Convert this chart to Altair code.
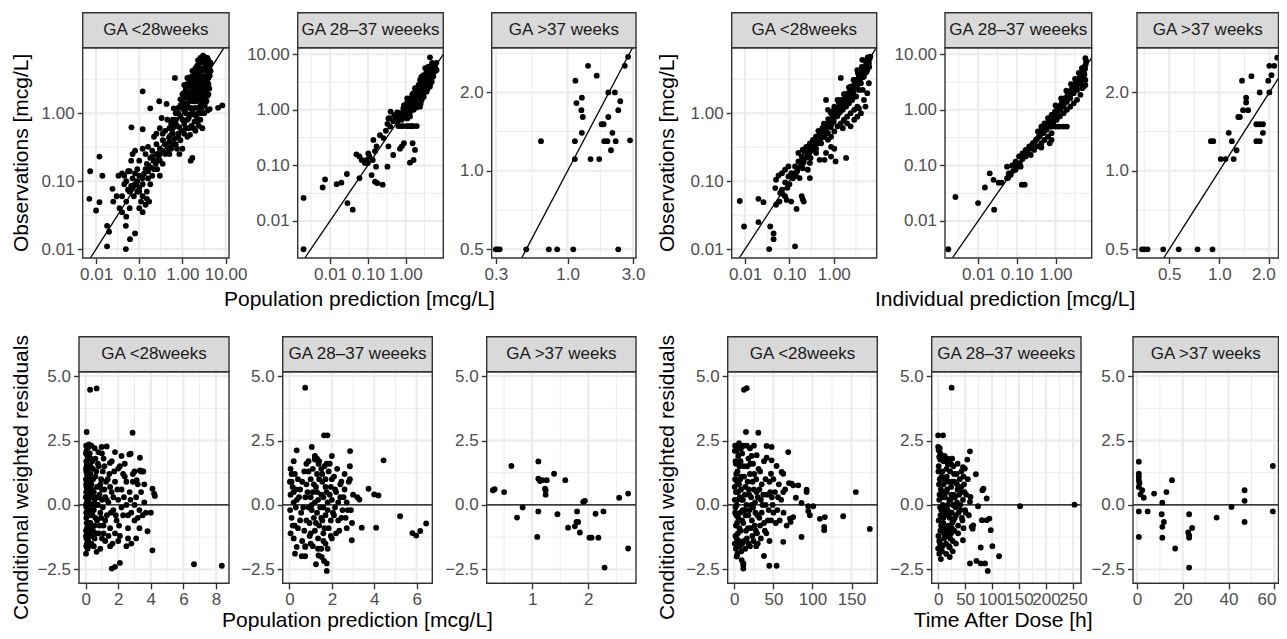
import altair as alt
import pandas as pd

FONT = "Liberation Sans"
W, H = 1271, 623          # drawing area (page 1287x639 minus 8px margins on each side)
OX, OY = 8, 8

# ---------------- texts ----------------
GA_LABELS = ["GA <28weeks", "GA 28\u201337 weeeks", "GA >37 weeks"]
X_TITLES = ["Population prediction [mcg/L]", "Individual prediction [mcg/L]",
            "Population prediction [mcg/L]", "Time After Dose [h]"]
Y_TITLES = ["Observations [mcg/L]", "Observations [mcg/L]",
            "Conditional weighted residuals", "Conditional weighted residuals"]

# ---------------- tick / grid values ----------------
LOG3 = [0.01, 0.1, 1]
LOG4 = [0.01, 0.1, 1, 10]
LOG_MIN3 = [0.0316, 0.316, 3.16]
LOG_MIN4 = [0.00316, 0.0316, 0.316, 3.16]
GA37_PRED_TICKS = [0.3, 1, 3]
GA37_PRED_MINOR = [0.548, 1.732]
GA37_IPRED_TICKS = [0.5, 1, 2]
GA37_IPRED_MINOR = [0.354, 0.707, 1.414]
GA37_OBS_TICKS = [0.5, 1, 2]
GA37_OBS_MINOR = [0.707, 1.414, 2.828]
CWRES_TICKS = [-2.5, 0, 2.5, 5]
CWRES_MINOR = [-1.25, 1.25, 3.75]
C1_TICKS, C1_MINOR = [0, 2, 4, 6, 8], [1, 3, 5, 7]
C2_TICKS, C2_MINOR = [0, 2, 4, 6], [1, 3, 5]
C3_TICKS, C3_MINOR = [1, 2], [0.5, 1.5, 2.5]
D1_TICKS, D1_MINOR = [0, 50, 100, 150], [25, 75, 125, 175]
D2_TICKS, D2_MINOR = [0, 50, 100, 150, 200, 250], [25, 75, 125, 175, 225]
D3_TICKS, D3_MINOR = [0, 20, 40, 60], [10, 30, 50]

# ---------------- data: (x, y) ----------------
# A: population prediction vs observation
a1 = [
    (0.0073, 0.14), (0.0070, 0.055), (0.010, 0.037), (0.012, 0.049), (0.012, 0.23), (0.014, 0.12),
    (0.018, 0.022), (0.020, 0.018), (0.018, 0.011), (0.024, 0.077), (0.025, 0.050), (0.033, 0.12),
    (0.040, 0.13), (0.045, 0.090), (0.050, 0.10), (0.060, 0.14), (0.055, 0.075), (0.065, 0.085),
    (0.070, 0.11), (0.080, 0.13), (0.090, 0.15), (0.035, 0.040), (0.040, 0.035), (0.050, 0.030),
    (0.060, 0.040), (0.049, 0.022), (0.049, 0.010), (0.061, 0.014), (0.080, 0.017), (0.10, 0.040),
    (0.11, 0.050), (0.12, 0.060), (0.14, 0.045), (0.030, 0.060), (0.075, 0.060), (0.090, 0.070),
    (0.10, 0.080), (0.070, 0.25), (0.080, 0.28), (0.10, 0.20), (0.066, 0.62), (0.12, 0.58), (0.12, 2.1),
    (0.045, 0.12), (0.055, 0.14), (0.065, 0.20), (0.085, 0.09), (0.12, 0.035), (0.15, 0.055), (0.17, 0.05),
    (0.18, 1.18), (0.29, 1.5), (0.43, 1.37), (0.63, 1.18), (0.67, 3.3),
    (0.70, 0.70), (0.55, 0.60), (0.50, 0.45), (0.40, 0.55), (0.35, 0.40), (0.60, 0.35), (0.45, 0.32),
    (0.30, 0.30), (0.25, 0.35), (0.20, 0.28), (0.28, 0.22), (0.22, 0.20), (0.18, 0.22), (0.15, 0.18),
    (0.35, 0.18), (0.40, 0.25), (0.80, 0.45), (0.75, 0.30), (0.50, 0.25), (0.16, 0.14), (0.13, 0.13),
    (0.10, 0.12), (0.26, 0.15), (0.20, 0.12), (0.12, 0.09), (0.09, 0.10), (0.30, 0.12), (0.18, 0.09),
    (0.15, 0.07), (1.55, 0.20), (1.70, 0.22), (1.0, 0.30), (0.85, 0.25), (0.60, 0.50), (0.30, 0.60),
    (0.22, 0.45), (0.16, 0.32), (0.14, 0.25), (0.12, 0.30), (0.33, 0.85), (0.45, 0.80), (0.25, 0.50),
    (2.6, 6.5), (3.2, 6.8), (3.0, 5.8), (2.2, 5.0), (3.6, 5.2), (2.8, 4.6), (1.7, 4.2), (3.9, 4.0),
    (2.4, 3.8), (3.2, 3.5), (1.9, 3.3), (1.3, 3.3), (2.7, 3.0), (3.7, 2.9), (2.1, 2.7), (1.6, 2.6),
    (3.0, 2.4), (4.2, 2.3), (2.4, 2.1), (1.2, 2.3), (1.8, 2.0), (3.4, 1.9), (2.6, 1.7), (1.5, 1.8),
    (1.0, 1.9), (2.0, 1.5), (3.0, 1.4), (1.3, 1.4), (0.9, 1.6), (1.6, 1.2), (2.4, 1.2), (1.1, 1.1),
    (0.8, 1.0), (1.9, 0.95), (2.8, 1.0), (1.4, 0.85), (1.0, 0.8), (2.2, 0.75), (0.7, 0.8), (1.6, 0.65),
    (2.9, 0.6), (1.2, 0.6), (0.85, 0.62), (2.0, 0.55), (1.5, 0.48), (4.3, 1.15), (6.7, 1.2), (8.4, 1.3),
    (3.3, 4.6), (4.0, 6.0), (2.0, 4.0), (1.5, 3.0), (3.5, 2.6), (4.0, 3.3), (3.1, 2.0), (2.3, 2.9),
    (1.8, 1.5), (1.1, 1.3), (2.7, 4.2), (3.6, 4.4), (2.0, 2.2), (2.5, 2.5), (1.4, 2.0), (3.3, 3.0),
    (2.8, 3.5), (1.2, 1.7), (0.95, 1.2), (2.3, 1.0), (3.8, 1.8), (1.7, 1.0),
    (2.3, 6.0), (2.9, 6.2), (3.5, 6.3), (2.5, 5.5), (3.3, 5.5), (3.9, 5.6), (2.0, 4.6), (2.5, 4.4),
    (3.0, 4.3), (3.5, 4.8), (4.2, 4.8), (1.8, 3.7), (2.2, 3.5), (2.6, 3.4), (3.0, 3.2), (3.6, 3.6),
    (4.3, 3.6), (1.5, 3.4), (1.9, 2.9), (2.6, 2.8), (3.2, 2.7), (4.0, 2.7), (1.4, 2.5), (1.8, 2.4),
    (2.2, 2.3), (2.8, 2.1), (3.6, 2.2), (1.1, 2.0), (1.6, 2.1), (2.1, 1.9), (2.7, 1.9), (3.2, 1.7),
    (4.0, 1.9), (1.3, 1.7), (1.8, 1.7), (2.3, 1.6), (2.9, 1.6), (3.6, 1.5), (1.0, 1.5), (1.5, 1.5),
    (2.6, 1.4), (3.3, 1.3), (0.9, 1.3), (1.4, 1.2), (2.0, 1.2), (2.8, 1.2), (3.8, 1.1), (1.2, 1.0),
    (1.7, 1.1), (2.5, 1.0), (3.2, 1.0), (0.9, 0.9), (1.5, 0.95), (2.1, 0.9), (0.75, 0.65), (1.1, 0.7),
    (1.3, 0.8), (1.9, 0.75), (2.6, 0.8), (0.95, 0.55), (1.4, 0.6), (1.8, 0.6), (2.4, 0.65), (0.6, 0.6),
    (0.8, 0.5), (1.1, 0.5), (1.3, 0.45), (0.5, 0.38), (0.65, 0.42), (0.9, 0.4), (0.55, 0.3), (0.7, 0.35),
    (0.4, 0.35), (0.45, 0.27), (0.3, 0.25), (0.35, 0.28), (0.25, 0.25), (0.2, 0.23), (0.24, 0.18),
    (0.3, 0.2), (0.18, 0.16), (0.22, 0.15), (0.14, 0.15), (0.12, 0.11), (0.16, 0.11), (0.08, 0.09),
    (0.07, 0.08), (0.1, 0.07), (0.06, 0.07), (0.05, 0.05), (0.04, 0.06), (0.35, 0.5), (0.5, 0.6),
    (0.6, 0.8), (0.55, 0.7), (0.7, 1.0), (0.8, 1.2), (4.5, 4.2), (4.5, 5.5), (3.8, 6.5), (3.0, 7.0),
    (2.2, 4.2), (1.3, 2.7), (1.1, 2.6),
]
a2 = [
    (0.0020, 0.026), (0.0020, 0.0031), (0.0064, 0.040), (0.0074, 0.056),
    (0.015, 0.046), (0.020, 0.049), (0.028, 0.070), (0.029, 0.021), (0.040, 0.016), (0.060, 0.059),
    (0.050, 0.158), (0.060, 0.145), (0.069, 0.125), (0.084, 0.110),
    (0.103, 0.164), (0.135, 0.125), (0.165, 0.095), (0.126, 0.067), (0.155, 0.051), (0.179, 0.048),
    (0.247, 0.045), (0.33, 0.095), (0.14, 0.287), (0.17, 0.22), (0.21, 0.35), (0.26, 0.31), (0.30, 0.42),
    (0.33, 0.56), (0.37, 0.71), (0.40, 0.93), (0.52, 0.66), (0.71, 0.71), (0.87, 0.93),
    (0.10, 0.11), (0.094, 0.125), (0.11, 0.145), (0.155, 0.18),
    (0.35, 0.22), (0.47, 0.154), (0.71, 0.20), (0.79, 0.22), (0.90, 0.25), (1.53, 0.25), (1.77, 0.19),
    (1.62, 0.125), (1.30, 0.112),
    (0.64, 0.51), (0.87, 0.51), (1.07, 0.51), (1.30, 0.51), (1.62, 0.51), (1.97, 0.51), (0.75, 0.51),
    (1.15, 0.51), (1.45, 0.51),
    (4.4, 8.8), (3.3, 5.6), (4.0, 6.0), (4.9, 5.6), (5.9, 4.9), (3.6, 4.9), (2.95, 4.2), (2.4, 3.45),
    (2.95, 3.45), (4.0, 3.7), (4.9, 3.2), (2.2, 2.8), (2.65, 2.62), (3.3, 2.45), (4.4, 2.62), (1.77, 2.45),
    (1.97, 2.13), (2.4, 1.99), (2.95, 1.85), (3.6, 2.13), (1.62, 1.85), (1.30, 1.60), (1.77, 1.51),
    (2.2, 1.73), (2.65, 1.51), (1.07, 1.31), (1.45, 1.22), (1.97, 1.14), (0.87, 1.07), (1.18, 1.0),
    (1.62, 1.0), (2.4, 1.14), (0.71, 0.87), (0.97, 0.81), (1.30, 0.76), (0.58, 0.71), (0.47, 0.62),
    (0.79, 0.66), (0.39, 0.50), (0.35, 0.70), (3.3, 3.0), (5.4, 4.0), (6.6, 5.2), (5.0, 7.0), (3.0, 2.9),
    (2.0, 2.4), (1.5, 1.9), (1.1, 1.6), (0.6, 0.9), (0.5, 0.8), (2.6, 3.9), (3.9, 4.6), (4.5, 3.0),
    (0.6, 0.6), (0.7, 0.8), (0.8, 0.7), (0.9, 0.9), (1.0, 1.1), (1.0, 0.8), (1.2, 1.2), (1.3, 0.9),
    (1.4, 1.4), (1.5, 1.1), (1.7, 1.7), (1.8, 1.3), (2.0, 2.0), (2.1, 1.6), (2.3, 2.3), (2.4, 1.8),
    (2.6, 2.1), (2.8, 2.6), (3.0, 2.2), (3.2, 3.2), (3.4, 2.7), (3.7, 3.1), (3.9, 3.9), (4.2, 3.4),
    (4.6, 4.2), (5.0, 4.6), (5.5, 5.5), (6.0, 6.0), (6.5, 7.0), (2.2, 2.6), (2.7, 3.3), (3.5, 4.2),
    (4.3, 5.0), (1.6, 2.0), (1.2, 1.5), (0.9, 1.2), (1.9, 1.1), (2.5, 1.3), (3.0, 1.7), (3.8, 2.4),
    (4.8, 3.5), (1.1, 0.7),
]
a3 = [
    (0.30, 0.5), (0.31, 0.5), (0.32, 0.5), (0.50, 0.5), (0.73, 0.5), (0.84, 0.5), (1.10, 0.5), (2.34, 0.5),
    (0.64, 1.30), (1.14, 2.22), (1.41, 2.53), (1.63, 2.32), (1.16, 1.82), (1.27, 1.91), (1.26, 1.71),
    (1.29, 1.61), (1.27, 1.40), (1.13, 1.30), (1.13, 1.11), (1.47, 1.11), (1.70, 1.11), (1.77, 1.51),
    (1.83, 1.51), (1.98, 1.61), (1.98, 2.0), (2.21, 2.0), (2.34, 1.71), (2.12, 1.40), (1.85, 1.30),
    (1.95, 1.30), (2.24, 1.30), (2.07, 1.20), (2.61, 2.53), (2.76, 2.74), (2.42, 1.85), (2.85, 1.31),
]
# B: individual prediction vs observation
b1 = [
    (0.0076, 0.051), (0.0095, 0.0215), (0.020, 0.055), (0.026, 0.049), (0.020, 0.025),
    (0.037, 0.0215), (0.044, 0.017), (0.044, 0.014), (0.035, 0.010), (0.134, 0.011),
    (0.048, 0.079), (0.057, 0.121), (0.050, 0.105), (0.068, 0.075), (0.062, 0.067), (0.080, 0.060),
    (0.087, 0.053), (0.11, 0.050), (0.145, 0.039), (0.19, 0.060), (0.20, 0.054), (0.21, 0.050),
    (0.080, 0.096), (0.095, 0.117), (0.11, 0.131), (0.134, 0.165), (0.16, 0.195), (0.19, 0.23), (0.22, 0.27),
    (0.134, 0.131), (0.17, 0.111), (0.20, 0.155), (0.26, 0.147), (0.29, 0.185),
    (0.068, 0.131), (0.080, 0.147), (0.095, 0.165), (0.29, 0.111),
    (0.48, 0.206), (0.62, 0.206), (0.87, 0.23), (1.1, 0.195), (1.9, 0.22),
    (0.74, 0.405), (0.87, 0.32), (0.67, 0.26),
    (0.16, 0.26), (0.20, 0.29), (0.24, 0.32), (0.29, 0.36), (0.34, 0.405), (0.40, 0.45), (0.48, 0.51),
    (0.57, 0.57), (0.67, 0.64), (0.80, 0.71), (0.95, 0.80), (1.1, 0.89), (1.3, 1.0), (1.6, 1.12),
    (1.9, 1.25), (2.2, 1.4), (2.6, 1.57), (3.2, 1.76), (3.7, 2.2), (4.1, 2.76), (4.8, 3.46), (5.7, 4.3),
    (6.2, 5.4), (4.4, 6.1), (6.7, 6.8),
    (0.26, 0.29), (0.34, 0.32), (0.40, 0.26), (0.52, 0.36), (0.44, 0.405), (0.62, 0.45), (0.74, 0.51),
    (0.87, 0.45), (1.03, 0.54), (1.22, 0.64), (1.44, 0.71), (1.7, 0.80), (2.0, 0.89), (2.4, 1.0),
    (2.9, 1.12), (3.4, 1.25), (2.9, 1.76), (2.4, 1.57), (2.0, 1.4), (1.7, 1.25), (1.44, 1.12),
    (0.67, 1.57), (0.74, 1.12), (0.87, 1.0), (1.03, 1.25), (1.44, 3.3), (1.22, 1.57), (1.44, 1.57),
    (2.4, 2.46), (2.9, 3.1), (3.4, 4.3), (3.7, 3.46),
    (2.0, 0.71), (2.9, 0.80), (3.4, 0.89), (4.1, 1.0), (4.8, 1.57), (5.7, 1.97), (6.2, 2.76), (5.2, 1.25),
    (3.7, 1.18), (2.4, 0.64), (1.6, 0.60), (1.03, 0.30),
    (0.55, 0.45), (0.6, 0.7), (0.35, 0.3), (0.45, 0.55), (1.2, 1.2), (1.8, 1.9), (2.7, 2.0), (3.0, 2.5),
    (4.5, 2.2), (5.0, 3.9), (3.9, 3.0), (5.3, 5.0),
    (0.05, 0.045), (0.06, 0.05), (0.07, 0.065), (0.09, 0.08), (0.10, 0.09), (0.12, 0.11), (0.14, 0.12),
    (0.15, 0.14), (0.17, 0.16), (0.19, 0.17), (0.21, 0.19), (0.23, 0.22), (0.26, 0.24), (0.28, 0.26),
    (0.31, 0.28), (0.33, 0.30), (0.36, 0.34), (0.39, 0.36), (0.42, 0.40), (0.46, 0.42), (0.50, 0.46),
    (0.54, 0.50), (0.59, 0.55), (0.64, 0.60), (0.70, 0.65), (0.76, 0.70), (0.82, 0.76), (0.90, 0.82),
    (0.98, 0.90), (1.06, 0.97), (1.15, 1.05), (1.25, 1.15), (1.36, 1.25), (1.48, 1.36), (1.60, 1.47),
    (1.75, 1.60), (1.90, 1.75), (2.06, 1.90), (2.25, 2.05), (2.45, 2.25), (2.65, 2.45), (2.90, 2.65),
    (3.15, 2.90), (3.40, 3.10), (3.70, 3.40), (4.00, 3.70), (4.40, 4.00), (4.80, 4.40), (5.20, 4.80),
    (5.60, 5.20), (6.00, 5.80), (6.40, 6.30),
    (0.30, 0.22), (0.40, 0.30), (0.50, 0.38), (0.60, 0.45), (0.70, 0.52), (0.85, 0.62), (1.00, 0.75),
    (1.20, 0.90), (1.40, 1.05), (1.70, 1.30), (2.00, 1.50), (2.40, 1.80), (2.80, 2.10), (3.30, 2.50),
    (3.90, 2.90), (4.60, 3.40), (5.40, 4.00), (6.30, 4.80),
    (0.20, 0.22), (0.30, 0.33), (0.40, 0.45), (0.55, 0.60), (0.75, 0.82), (1.00, 1.10), (1.30, 1.45),
    (1.70, 1.90), (2.20, 2.40), (2.80, 3.10), (3.50, 3.90), (4.30, 4.80), (5.20, 5.80), (5.80, 6.60),
    (0.45, 0.36), (0.65, 0.55), (0.90, 0.70), (1.30, 1.12), (1.80, 1.45), (2.60, 2.10), (3.60, 2.90),
    (5.00, 4.20),
]
b2 = [
    (0.0017, 0.0031), (0.0026, 0.027), (0.010, 0.021), (0.015, 0.040), (0.020, 0.072), (0.025, 0.055),
    (0.026, 0.016), (0.034, 0.049), (0.041, 0.049), (0.056, 0.059), (0.062, 0.072), (0.135, 0.045),
    (0.056, 0.095), (0.076, 0.10), (0.093, 0.117), (0.114, 0.145), (0.14, 0.164), (0.17, 0.19),
    (0.21, 0.22), (0.26, 0.25), (0.31, 0.287), (0.39, 0.33), (0.47, 0.38), (0.58, 0.44), (0.71, 0.50),
    (0.87, 0.57), (1.07, 0.66), (1.30, 0.76), (1.62, 0.87), (1.97, 1.0), (2.4, 1.14), (2.95, 1.31),
    (3.6, 1.51), (4.4, 1.86), (5.4, 2.62), (5.9, 3.45),
    (0.093, 0.083), (0.126, 0.095), (0.17, 0.145), (0.23, 0.154), (0.28, 0.19), (0.35, 0.22),
    (0.43, 0.25), (0.52, 0.287), (0.64, 0.33), (0.79, 0.38),
    (0.35, 0.41), (0.43, 0.50), (0.52, 0.57), (0.64, 0.71), (0.79, 0.81), (0.97, 0.93), (1.18, 1.14),
    (1.45, 1.31), (1.77, 1.51), (2.2, 1.86), (2.65, 2.28), (3.3, 2.62), (4.0, 3.0), (4.9, 3.7),
    (5.4, 4.55), (5.6, 6.0), (5.9, 8.5),
    (3.6, 2.28), (2.95, 1.99), (2.4, 1.62), (1.97, 1.41), (1.62, 1.14), (1.30, 1.0), (1.07, 0.81),
    (0.87, 0.71), (0.71, 0.62), (0.58, 0.54), (0.47, 0.47), (0.39, 0.41), (4.9, 2.45), (4.4, 3.0),
    (5.9, 2.8),
    (0.52, 0.50), (0.64, 0.50), (0.79, 0.50), (0.97, 0.50), (1.15, 0.50), (1.30, 0.50), (1.62, 0.50),
    (1.97, 0.50), (0.43, 0.21), (0.71, 0.25), (0.79, 0.287), (0.16, 0.045),
    (0.06, 0.06), (0.07, 0.068), (0.08, 0.08), (0.10, 0.095), (0.12, 0.11), (0.14, 0.13), (0.16, 0.15),
    (0.19, 0.17), (0.22, 0.20), (0.25, 0.23), (0.29, 0.26), (0.33, 0.30), (0.38, 0.35), (0.44, 0.40),
    (0.50, 0.46), (0.57, 0.52), (0.65, 0.60), (0.75, 0.68), (0.85, 0.78), (0.97, 0.88), (1.10, 1.00),
    (1.25, 1.13), (1.42, 1.28), (1.60, 1.45), (1.80, 1.63), (2.05, 1.85), (2.30, 2.10), (2.60, 2.35),
    (2.95, 2.65), (3.30, 3.00), (3.70, 3.35), (4.20, 3.80), (4.70, 4.30), (5.30, 4.90), (5.80, 5.50),
    (6.00, 6.50), (6.20, 7.50),
    (0.50, 0.40), (0.60, 0.48), (0.70, 0.55), (0.80, 0.62), (0.95, 0.72), (1.10, 0.85), (1.30, 1.00),
    (1.50, 1.15), (1.75, 1.35), (2.00, 1.55), (2.30, 1.75), (2.70, 2.00), (3.10, 2.30), (3.60, 2.70),
    (4.20, 3.20), (4.90, 3.80), (5.60, 4.30),
    (1.00, 1.20), (1.40, 1.60), (1.90, 2.20), (2.50, 2.90), (3.20, 3.60), (4.00, 4.60), (4.80, 5.60),
]
b3 = [
    (0.343, 0.5), (0.354, 0.5), (0.37, 0.5), (0.46, 0.5), (0.57, 0.5), (0.74, 0.5), (0.91, 0.5),
    (0.89, 1.30), (0.92, 1.30), (1.02, 1.11), (1.09, 1.11), (1.22, 1.11), (1.14, 1.40), (1.19, 1.30),
    (1.27, 1.20), (1.30, 1.61), (1.33, 1.61), (1.39, 1.71), (1.49, 1.71), (1.45, 1.91), (1.45, 1.83),
    (1.37, 2.22), (1.56, 2.31), (1.67, 1.51), (1.75, 1.51), (1.83, 1.51), (1.67, 1.30), (1.75, 1.30),
    (1.83, 1.40), (1.75, 2.0), (2.0, 2.0), (1.97, 2.22), (2.0, 2.53), (2.14, 2.53), (2.23, 2.72),
    (2.06, 2.33),
]
# C: population prediction vs CWRES
c1 = [
    (0.27, 4.47), (0.67, 4.52), (0.06, 2.83), (2.88, 2.80), (0.02, -1.89), (0.67, -1.82),
    (1.60, -2.47), (1.80, -2.40), (2.10, -2.25), (3.80, -1.02), (4.10, -1.76), (6.65, -2.30), (8.36, -2.36),
    (4.20, 0.44), (4.25, 0.35), (4.10, 0.63), (3.33, 1.83), (2.68, 1.96), (2.76, 1.99), (1.80, 2.05),
    (0.98, 2.25), (1.29, 2.27), (0.78, 2.05), (1.49, 1.63), (2.00, 1.41), (3.33, 1.34), (3.54, 1.30),
    (3.13, 0.96), (0.03, 2.30), (0.05, 2.10), (0.10, 1.90), (0.08, 1.60), (0.04, 1.30), (0.12, 1.10),
    (0.06, 0.90), (0.15, 0.70), (0.03, 0.50), (0.10, 0.30), (0.20, 0.10), (0.05, -0.10), (0.12, -0.30),
    (0.04, -0.50), (0.18, -0.70), (0.08, -0.90), (0.15, -1.10), (0.05, -1.30), (0.10, -1.50), (0.20, -1.60),
    (0.25, 2.00), (0.30, 1.50), (0.28, 1.20), (0.35, 0.80), (0.30, 0.40), (0.40, 0.00), (0.30, -0.40),
    (0.38, -0.80), (0.25, -1.20), (0.45, 1.00), (0.50, 0.50), (0.55, 0.20), (0.50, -0.20), (0.60, -0.50),
    (0.45, -1.00), (0.55, -1.30), (0.65, 1.30), (0.70, 0.70), (0.75, 0.00), (0.70, -0.60), (0.80, -1.10),
    (0.85, 0.40), (0.90, -0.30), (0.95, 1.00), (1.00, 0.60), (1.05, -0.10), (1.10, -0.80), (1.00, -1.30),
    (1.20, 0.30), (1.30, -0.40), (1.25, 0.90), (1.15, 1.50), (1.40, 0.10), (1.50, -0.90), (1.45, 1.20),
    (1.60, 0.50), (1.70, -0.20), (1.65, -1.50), (1.80, 0.90), (1.90, -0.60), (2.00, 0.20), (2.10, -1.20),
    (2.20, 0.60), (2.30, -0.40), (2.40, 1.10), (2.50, 0.00), (2.60, -0.90), (2.70, 0.50), (2.80, -0.30),
    (2.90, 0.90), (3.00, -0.60), (3.10, 0.30), (3.20, 0.80), (3.30, -0.20), (3.40, 0.50), (3.50, -0.40),
    (3.60, 0.10), (3.70, -0.30), (3.50, 1.30), (3.30, -0.90), (2.50, -1.60), (2.00, -1.40), (1.50, -1.60),
    (1.20, -1.40), (0.90, -1.70), (0.35, -1.50), (0.02, -1.00), (0.02, 1.00), (0.02, 0.00), (0.20, 2.35),
    (0.15, 1.40), (0.22, 0.50), (0.25, -0.20), (0.60, 1.80), (0.80, 1.50), (1.00, 2.00), (1.60, 1.70),
    (2.20, 1.90), (2.90, 1.20), (2.40, 1.60), (3.00, 1.30), (2.80, -1.50), (3.10, -1.30), (2.60, -1.30),
    (1.80, -1.10), (3.60, 0.80), (3.40, 1.30), (4.00, -0.30), (0.08, 2.0), (0.12, -1.7), (0.40, 1.7),
    (0.50, -1.6), (1.10, 1.8),
    (0.02, 2.0), (0.04, 1.7), (0.06, 1.5), (0.02, 1.4), (0.08, 1.2), (0.03, 0.8), (0.09, 0.6), (0.01, 0.3),
    (0.07, 0.1), (0.14, 0.0), (0.03, -0.3), (0.09, -0.4), (0.06, -0.7), (0.12, -0.9), (0.02, -1.2),
    (0.08, -1.2), (0.04, -1.6), (0.15, -1.4), (0.16, 0.4), (0.18, 1.0), (0.20, -0.2), (0.22, -1.0),
    (0.25, 0.9), (0.28, 0.3), (0.30, -0.7), (0.32, 1.8), (0.35, -1.2), (0.40, 0.6), (0.42, -0.4),
    (0.45, 1.4), (0.50, 0.0), (0.55, -0.8), (0.60, 1.1), (0.62, 0.3), (0.65, -1.1), (0.70, 0.0),
    (0.75, 1.6), (0.80, 0.3), (0.85, -0.8), (0.90, 0.8), (0.95, -0.5), (1.00, 0.2), (1.05, 1.3),
    (1.10, -1.1), (1.15, 0.6), (1.20, -0.6), (1.30, 0.2), (1.35, 1.0), (1.40, -1.2), (1.50, 0.7),
    (1.55, -0.3), (1.70, 0.3), (1.75, 1.3), (1.85, -0.4), (1.95, 0.6), (2.05, -0.8), (2.10, 1.5),
    (2.20, -0.1), (2.35, 0.3), (2.50, 0.9), (2.60, -0.4), (2.75, 0.2), (3.00, 0.0), (3.20, -0.5),
    (2.30, 1.2), (0.55, 2.2), (0.35, 2.3), (0.12, 2.2), (0.05, 0.7), (0.10, -0.1), (0.07, -1.5),
]
c2 = [
    (0.74, 4.55), (1.63, 2.70), (1.79, 2.70), (2.86, 2.09), (4.44, 1.73), (3.73, 0.63), (4.0, 0.41),
    (4.2, 0.37), (3.3, 0.21), (5.22, -0.44), (5.8, -1.09), (5.98, -1.19), (6.17, -1.01), (6.45, -0.72),
    (3.41, -0.88), (4.09, -0.88), (2.94, -1.37), (1.76, -2.56), (1.76, -2.27), (1.63, -2.17), (1.52, -2.02),
    (1.37, -1.96), (0.74, -1.99), (0.58, -1.99), (0.26, -1.89), (0.34, -1.63), (0.74, -1.63), (0.34, 2.12),
    (1.05, 2.25), (1.2, 1.86), (1.2, 1.76), (1.37, 1.60),
    (0.05, 1.4), (0.1, 1.2), (0.02, 0.9), (0.15, 0.7), (0.05, 0.4), (0.2, 0.1), (0.03, -0.2), (0.1, -0.5),
    (0.25, -0.8), (0.05, -1.1), (0.2, -1.3), (0.4, 1.0), (0.5, 0.6), (0.35, 0.2), (0.55, -0.3), (0.4, -0.9),
    (0.6, -1.4), (0.7, 1.3), (0.8, 0.8), (0.75, 0.3), (0.9, -0.1), (0.8, -0.6), (0.95, -1.2), (1.0, 1.0),
    (1.1, 0.5), (1.05, 0.0), (1.15, -0.5), (1.2, -1.0), (1.1, -1.6), (1.3, 1.2), (1.25, 0.7), (1.35, 0.2),
    (1.3, -0.3), (1.4, -0.8), (1.35, -1.3), (1.5, 1.4), (1.55, 0.9), (1.5, 0.4), (1.6, -0.1), (1.55, -0.6),
    (1.6, -1.1), (1.5, -1.7), (1.7, 1.0), (1.75, 0.5), (1.8, 0.1), (1.7, -0.4), (1.85, -0.9), (1.7, -1.5),
    (1.9, 1.6), (1.95, 0.7), (2.0, 0.2), (2.05, -0.3), (1.95, -1.2), (2.1, 1.1), (2.2, 0.5), (2.15, -0.1),
    (2.3, -0.6), (2.25, 1.4), (2.4, 0.3), (2.5, -0.2), (2.45, 0.9), (2.6, 0.6), (2.7, 0.1), (2.65, -0.5),
    (2.8, 0.9), (2.85, 1.5), (2.9, -0.2), (2.95, -0.7), (3.0, 0.4), (3.2, 0.3), (2.85, 1.0), (1.3, 1.8),
    (1.2, 1.9), (0.2, 1.7), (0.9, 1.7), (1.75, 1.6), (2.0, 1.9), (2.35, -1.0), (2.7, -0.9), (1.0, -1.5),
    (0.75, -1.6), (1.25, -2.3),
    (0.1, 0.9), (0.2, 0.5), (0.3, -0.1), (0.25, 1.2), (0.15, -0.8), (0.3, 0.6), (0.45, 0.3), (0.5, -0.6),
    (0.6, 0.9), (0.65, -0.1), (0.7, -1.0), (0.85, 0.5), (0.9, 1.3), (0.95, -0.7), (1.0, 0.3), (1.05, -0.2),
    (1.1, 1.4), (1.15, 0.8), (1.2, 0.1), (1.25, -0.7), (1.3, 0.5), (1.4, 1.0), (1.45, -0.1), (1.5, -0.5),
    (1.55, 1.2), (1.6, 0.3), (1.65, -0.9), (1.7, 0.7), (1.8, -0.2), (1.85, 1.3), (1.9, 0.4), (1.95, -0.6),
    (2.0, 1.0), (2.1, -0.4), (2.15, 0.6), (2.2, -1.1), (2.3, 0.1), (2.4, 0.8), (2.45, -0.5), (2.55, 0.3),
    (2.6, 1.2), (2.75, -0.2), (1.0, -1.1), (1.35, -1.7), (1.6, -1.4), (1.8, -1.7), (2.0, -1.3), (1.4, 1.7),
    (1.65, 1.5), (0.8, 1.6),
]
c3 = [
    (0.30, 0.57), (0.33, 0.61), (0.50, 0.50), (0.63, 1.51), (0.83, -0.10), (0.73, -0.49), (1.11, 1.69),
    (1.11, 1.02), (1.14, 0.93), (1.18, 0.96), (1.26, 0.96), (1.23, 0.63), (1.24, 0.57), (1.24, 0.40),
    (1.39, 1.21), (1.59, 0.96), (1.11, -0.25), (1.09, -1.24), (1.45, -0.36), (1.64, -0.88), (1.76, -0.83),
    (1.79, -0.66), (1.82, -0.66), (1.80, -0.25), (1.85, -1.07), (1.91, 0.12), (1.94, 0.16), (2.02, -1.27),
    (2.06, -1.27), (2.18, -1.27), (2.13, -0.34), (2.27, -0.25), (2.29, -2.43), (2.55, 0.28), (2.71, 0.44),
    (2.71, -1.69),
]
# D: time after dose vs CWRES
d1 = [
    (12.4, 4.47), (15.8, 4.53), (14.9, 2.83), (30.7, 2.80), (69.0, 2.05), (41.3, 2.29), (47.7, 2.25),
    (28.5, 1.93), (41.3, 1.83), (47.7, 1.73), (54.1, 1.51), (60.5, 1.28), (62.6, 1.21), (46.9, 1.21),
    (69.9, 0.85), (73.3, 0.83), (75.4, 0.76), (81.8, 0.76), (92.5, 0.59), (92.5, 0.50), (62.6, 0.50),
    (78.8, 0.28), (86.0, 0.08), (94.6, -0.05), (101.0, -0.05), (94.6, -0.23), (96.7, -0.40), (109.5, -0.54),
    (115.9, -0.47), (115.0, -0.85), (115.0, -0.98), (139.3, -0.44), (155.5, 0.50), (173.4, -0.93),
    (86.0, -1.24), (71.2, -0.53), (75.4, -0.47), (72.0, -0.66), (62.6, -1.43), (37.9, -1.98), (44.7, -2.36),
    (54.1, -2.36), (11.5, -2.34), (11.5, -2.47), (9.4, -2.14), (11.5, -2.27),
    (1, 2.3), (3, 2.1), (5, 1.9), (2, 1.6), (4, 1.3), (1, 1.0), (6, 0.8), (2, 0.5), (7, 0.3), (3, 0.0),
    (1, -0.3), (5, -0.5), (2, -0.8), (8, -1.0), (3, -1.3), (6, -1.5), (2, -1.7), (10, 2.0), (12, 1.5),
    (9, 1.1), (14, 0.7), (11, 0.2), (13, -0.2), (10, -0.6), (15, -1.0), (12, -1.4), (9, -1.8), (16, 2.3),
    (18, 1.8), (20, 1.2), (17, 0.9), (19, 0.4), (22, 0.0), (18, -0.4), (21, -0.9), (16, -1.3), (24, 1.6),
    (25, 0.6), (27, -0.3), (26, -0.8), (23, -1.2), (28, 1.0), (30, 0.3), (32, -0.5), (29, -1.1), (33, 1.3),
    (35, 0.8), (36, 0.0), (38, -0.7), (34, -1.3), (40, 1.0), (42, 0.4), (44, -0.2), (41, -1.1), (45, 0.9),
    (47, -0.6), (48, 0.3), (50, -0.3), (52, 0.5), (55, -0.2), (57, 0.8), (58, -0.6), (60, 0.2), (63, -0.3),
    (65, 0.6), (67, -0.8), (50, 1.0), (45, -1.4), (38, 1.7), (25, 2.3), (20, 2.2), (6, 2.4), (0.5, -1.5),
    (0.5, 0.7), (14, -1.7), (20, -1.6), (30, -1.5), (4, -1.9), (8, 1.7), (12, 2.3), (24, -0.1), (34, 0.2),
    (0.5, 2.1), (1.5, 1.7), (2.5, 1.2), (3.5, 0.9), (4.5, 0.5), (0.5, 0.2), (1.5, -0.1), (2.5, -0.4),
    (3.5, -0.7), (4.5, -1.1), (5.5, -1.4), (1.5, -1.2), (6.5, 1.5), (7.5, 1.0), (8.5, 0.6), (9.5, 0.2),
    (10.5, -0.2), (11.5, -0.7), (6.5, -0.9), (7.5, -0.3), (8.5, 2.2), (12.5, 1.1), (13.5, 0.4), (14.5, -0.4),
    (15.5, 0.0), (16.5, 1.5), (17.5, -0.9), (18.5, 0.6), (19.5, -0.2), (20.5, 1.6), (21.5, 0.3), (22.5, -0.6),
    (23.5, 0.9), (24.5, -1.4), (25.5, 1.2), (26.5, 0.1), (27.5, -1.0), (28.5, 0.5), (29.5, -0.4), (31, 1.4),
    (32, 0.6), (33, -0.8), (35, -0.3), (37, 0.4), (39, -1.0), (40, 0.0), (43, -0.6), (46, 0.5), (49, 0.0),
    (53, -0.7), (56, 0.3), (3, -2.0), (5, 2.2), (10, -1.5), (18, -1.5), (22, 1.9), (28, -1.6), (4, 0.2),
    (7, -1.6),
]
d2 = [
    (25, 4.55), (0, 2.70), (9, 2.70), (0, 2.25), (1, 2.12), (2, 1.86), (4, 1.76), (21.5, -2.02), (0, -1.69),
    (2, -1.89), (18, 1.58), (59, 2.08), (54, 1.76), (46, 1.47), (49.5, 1.41), (70, 1.19), (84, 0.63),
    (82, 0.57), (90, 0.25), (152, -0.05), (253, 0.01), (74, -0.05), (59, 0.12), (60, 0.31), (81, -0.59),
    (90, -0.59), (95, -0.53), (97.6, -0.98), (62, -0.85), (64, -0.92), (65, -0.79), (46, -1.37), (79, -1.65),
    (100.6, -1.60), (113, -1.99), (59, -2.27), (71, -2.17), (79, -2.27), (87, -2.27), (92, -2.56), (21.5, -1.65),
    (1, 1.5), (3, 1.0), (5, 0.6), (2, 0.2), (6, -0.2), (1, -0.6), (4, -1.0), (2, -1.4), (7, -1.8), (8, 1.3),
    (10, 0.8), (9, 0.3), (12, -0.1), (10, -0.5), (13, -0.9), (11, -1.3), (14, 1.7), (16, 1.1), (15, 0.5),
    (18, 0.0), (17, -0.4), (19, -0.8), (16, -1.2), (20, -1.6), (22, 1.3), (24, 0.7), (23, 0.2), (25, -0.3),
    (26, -0.7), (24, -1.1), (28, 1.5), (30, 0.9), (29, 0.4), (32, -0.1), (31, -0.5), (30, -1.0), (27, -1.4),
    (34, 1.2), (36, 0.6), (35, 0.1), (38, -0.3), (37, -0.8), (40, 1.0), (42, 0.5), (41, 0.0), (44, -0.5),
    (43, 1.3), (46, 0.2), (48, 0.8), (50, -0.2), (52, 0.4), (47, -0.9), (55, 1.0), (57, -0.4), (5, 1.9),
    (3, 2.2), (8, -1.6), (33, -1.5), (36, 1.6), (26, 1.8), (12, 1.9),
    (0.5, 1.3), (1.5, 0.8), (2.5, 0.4), (3.5, -0.1), (4.5, -0.4), (5.5, -0.8), (0.5, -1.2), (3.5, -1.5),
    (6.5, 1.1), (7.5, 0.5), (8.5, 0.0), (9.5, -0.7), (10.5, -1.1), (11.5, 1.0), (12.5, 0.3), (13.5, -0.3),
    (14.5, -1.5), (15.5, 1.4), (16.5, 0.6), (17.5, -0.2), (18.5, -1.0), (19.5, 0.9), (20.5, 0.2),
    (21.5, -0.5), (22.5, -1.3), (23.5, 1.6), (24.5, 0.4), (25.5, -0.9), (26.5, 0.9), (27.5, 0.0),
    (28.5, -0.6), (29.5, 1.2), (31, 0.3), (33, -0.4), (35, 0.8), (37, -1.1), (39, 0.4), (41, -0.2),
    (43, 0.7), (45, -0.6), (47, 1.1), (49, 0.5), (51, -0.3), (4, 2.0), (10, 1.7), (18, 1.8), (27, -1.8),
    (15, -1.9), (5, -2.1),
]
d3 = [
    (0.85, 1.68), (0.85, 1.21), (0.85, 1.09), (0.85, 0.96), (1.1, 0.85), (0.85, 0.70), (2.3, 0.57),
    (1.6, 0.41), (3.0, 0.28), (0.85, -0.25), (4.7, -0.25), (0.85, -1.24), (7.5, 0.44), (12.9, 0.50),
    (15.3, 0.96), (11.1, 0.09), (10.8, -0.36), (11.8, -0.66), (11.1, -0.85), (11.1, -1.27), (16.7, -1.69),
    (22.8, -0.36), (22.4, -1.07), (22.8, -1.18), (22.8, -1.27), (24.1, -0.89), (22.8, -2.43), (34.8, -0.49),
    (41.3, -0.08), (47.0, 0.57), (47.0, 0.16), (47.0, -0.66), (59.3, 1.51), (59.3, -0.25),
]

# ---------------- layout (image pixel coordinates) ----------------
TOP = (12.7, 47.7, 258.0)      # strip top, panel top, panel bottom
BOT = (336.7, 371.7, 583.3)
RIGHT_EDGE = 1278.5            # last panels stop where the drawing area ends

PANELS = [
    dict(pts=a1, lab=0, row=TOP, lr=(82.7, 229.0), xt="log", yt="log", xd=[0.0049, 12.0], yd=[0.0074, 9.2],
         xv=LOG4, yv=LOG3, xf=".2f", yf=".2f", xm=LOG_MIN3, ym=LOG_MIN3, ref="diag"),
    dict(pts=a2, lab=1, row=TOP, lr=(297.7, 443.3), xt="log", yt="log", xd=[0.0014, 9.9], yd=[0.00216, 13.1],
         xv=LOG3, yv=LOG4, xf=".2f", yf=".2f", xm=LOG_MIN4, ym=LOG_MIN4, ref="diag"),
    dict(pts=a3, lab=2, row=TOP, lr=(491.7, 636.0), xt="log", yt="log", xd=[0.28, 3.15], yd=[0.463, 2.97],
         xv=GA37_PRED_TICKS, yv=GA37_OBS_TICKS, xf=".1f", yf=".1f", xm=GA37_PRED_MINOR, ym=GA37_OBS_MINOR, ref="diag"),
    dict(pts=b1, lab=0, row=TOP, lr=(731.7, 876.7), xt="log", yt="log", xd=[0.005, 9.3], yd=[0.0074, 9.2],
         xv=LOG3, yv=LOG3, xf=".2f", yf=".2f", xm=LOG_MIN3, ym=LOG_MIN3, ref="diag"),
    dict(pts=b2, lab=1, row=TOP, lr=(945.0, 1091.7), xt="log", yt="log", xd=[0.0014, 8.6], yd=[0.00216, 13.1],
         xv=LOG3, yv=LOG4, xf=".2f", yf=".2f", xm=LOG_MIN4, ym=LOG_MIN4, ref="diag"),
    dict(pts=b3, lab=2, row=TOP, lr=(1137.0, RIGHT_EDGE), xt="log", yt="log", xd=[0.32, 2.27], yd=[0.463, 2.97],
         xv=GA37_IPRED_TICKS, yv=GA37_OBS_TICKS, xf=".1f", yf=".1f", xm=GA37_IPRED_MINOR, ym=GA37_OBS_MINOR,
         ref="diag", edge=(2, -6)),
    dict(pts=c1, lab=0, row=BOT, lr=(79.0, 229.0), xt="linear", yt="linear", xd=[-0.41, 8.8], yd=[-3.04, 5.17],
         xv=C1_TICKS, yv=CWRES_TICKS, xf="d", yf=".1f", xm=C1_MINOR, ym=CWRES_MINOR, ref="zero"),
    dict(pts=c2, lab=1, row=BOT, lr=(282.7, 432.3), xt="linear", yt="linear", xd=[-0.32, 6.74], yd=[-3.04, 5.17],
         xv=C2_TICKS, yv=CWRES_TICKS, xf="d", yf=".1f", xm=C2_MINOR, ym=CWRES_MINOR, ref="zero"),
    dict(pts=c3, lab=2, row=BOT, lr=(486.7, 636.0), xt="linear", yt="linear", xd=[0.19, 2.85], yd=[-3.04, 5.17],
         xv=C3_TICKS, yv=CWRES_TICKS, xf="d", yf=".1f", xm=C3_MINOR, ym=CWRES_MINOR, ref="zero"),
    dict(pts=d1, lab=0, row=BOT, lr=(727.7, 877.3), xt="linear", yt="linear", xd=[-8.5, 183.0], yd=[-3.04, 5.17],
         xv=D1_TICKS, yv=CWRES_TICKS, xf="d", yf=".1f", xm=D1_MINOR, ym=CWRES_MINOR, ref="zero"),
    dict(pts=d2, lab=1, row=BOT, lr=(931.7, 1081.0), xt="linear", yt="linear", xd=[-12.0, 265.0], yd=[-3.04, 5.17],
         xv=D2_TICKS, yv=CWRES_TICKS, xf="d", yf=".1f", xm=D2_MINOR, ym=CWRES_MINOR, ref="zero"),
    dict(pts=d3, lab=2, row=BOT, lr=(1133.0, RIGHT_EDGE), xt="linear", yt="linear", xd=[-1.7, 61.8], yd=[-3.04, 5.17],
         xv=D3_TICKS, yv=CWRES_TICKS, xf="d", yf=".1f", xm=D3_MINOR, ym=CWRES_MINOR, ref="zero", edge=(60, -8)),
]

GRID = "#EBEBEB"
DARK = "#333333"
ONE = pd.DataFrame({"k": [0]})


def axis_common():
    return dict(grid=False, domain=False, ticks=True, tickSize=5.5, tickWidth=1.4, tickColor=DARK,
                labelFontSize=17, labelColor="#4D4D4D", labelFont=FONT, labelPadding=3,
                labelFlush=False, labelOverlap=False, title="")


def make_scale(kind, dom, rng):
    if kind == "linear":
        return alt.Scale(type="linear", domain=dom, range=rng, nice=False, zero=False)
    return alt.Scale(type="log", domain=dom, range=rng, nice=False)


layers = []
for p in PANELS:
    st, yt, yb = [v - OY for v in p["row"]]
    x0, x1 = [v - OX for v in p["lr"]]
    xs = make_scale(p["xt"], p["xd"], [x0, x1])
    ys = make_scale(p["yt"], p["yd"], [yb, yt])

    gx = pd.DataFrame({"v": p["xv"] + p["xm"], "w": [2.0] * len(p["xv"]) + [1.0] * len(p["xm"])})
    gy = pd.DataFrame({"v": p["yv"] + p["ym"], "w": [2.0] * len(p["yv"]) + [1.0] * len(p["ym"])})
    layers.append(alt.Chart(gx).mark_rule(color=GRID).encode(
        x=alt.X("v:Q", scale=xs, axis=None), y=alt.value(yt), y2=alt.value(yb),
        strokeWidth=alt.StrokeWidth("w:Q", scale=None, legend=None)))
    layers.append(alt.Chart(gy).mark_rule(color=GRID).encode(
        y=alt.Y("v:Q", scale=ys, axis=None), x=alt.value(x0), x2=alt.value(x1),
        strokeWidth=alt.StrokeWidth("w:Q", scale=None, legend=None)))

    if p["ref"] == "diag":
        lo = max(p["xd"][0], p["yd"][0])
        hi = min(p["xd"][1], p["yd"][1])
        ref = pd.DataFrame({"x": [lo, hi], "y": [lo, hi]})
        layers.append(alt.Chart(ref).mark_line(color="black", strokeWidth=1.3).encode(
            x=alt.X("x:Q", scale=xs, axis=None), y=alt.Y("y:Q", scale=ys, axis=None)))
    else:
        ref = pd.DataFrame({"v": [0.0]})
        layers.append(alt.Chart(ref).mark_rule(color="black", strokeWidth=1.3).encode(
            y=alt.Y("v:Q", scale=ys, axis=None), x=alt.value(x0), x2=alt.value(x1)))

    pts = pd.DataFrame(p["pts"], columns=["x", "y"])
    xkw = axis_common()
    if "edge" in p:
        # nudge the last label at the right border so it stays inside the page
        thr, off = p["edge"]
        xkw["labelOffset"] = {"condition": {"test": f"datum.value >= {thr}", "value": off}, "value": 0}
    xaxis = alt.Axis(orient="bottom", offset=yb - H, values=p["xv"], format=p["xf"], **xkw)
    yaxis = alt.Axis(orient="left", offset=-x0, values=p["yv"], format=p["yf"], **axis_common())
    layers.append(alt.Chart(pts).mark_circle(size=34, color="black", opacity=1).encode(
        x=alt.X("x:Q", scale=xs, axis=xaxis), y=alt.Y("y:Q", scale=ys, axis=yaxis)))

    layers.append(alt.Chart(ONE).mark_rect(fill="white", fillOpacity=0, stroke=DARK, strokeWidth=1.4).encode(
        x=alt.value(x0), x2=alt.value(x1), y=alt.value(yt), y2=alt.value(yb)))
    layers.append(alt.Chart(ONE).mark_rect(fill="#D9D9D9", stroke=DARK, strokeWidth=1.4).encode(
        x=alt.value(x0), x2=alt.value(x1), y=alt.value(st), y2=alt.value(yt)))
    layers.append(alt.Chart(ONE).mark_text(text=GA_LABELS[p["lab"]], font=FONT, fontSize=17, color="#1A1A1A",
                                          align="center", baseline="middle").encode(
        x=alt.value((x0 + x1) / 2), y=alt.value((st + yt) / 2)))

# group titles
GROUPS = [(0, 3, TOP), (3, 6, TOP), (6, 9, BOT), (9, 12, BOT)]
for gi, (i0, i1, row) in enumerate(GROUPS):
    left = PANELS[i0]["lr"][0] - OX
    right = PANELS[i1 - 1]["lr"][1] - OX
    top = row[1] - OY
    bottom = row[2] - OY
    base = bottom + 48 if row is TOP else bottom + 44
    layers.append(alt.Chart(ONE).mark_text(text=X_TITLES[gi], font=FONT, fontSize=21, color="black",
                                          align="center", baseline="alphabetic").encode(
        x=alt.value((left + right) / 2), y=alt.value(base)))
    ytx = 27.5 - OX if gi in (0, 2) else 674.0 - OX
    layers.append(alt.Chart(ONE).mark_text(text=Y_TITLES[gi], font=FONT, fontSize=21, color="black",
                                          align="center", baseline="alphabetic", angle=270).encode(
        x=alt.value(ytx), y=alt.value((top + bottom) / 2)))

chart = (
    alt.layer(*layers)
    .properties(width=W, height=H, padding=0, autosize=alt.AutoSizeParams(type="none"))
    .resolve_scale(x="independent", y="independent")
    .resolve_axis(x="independent", y="independent")
    .configure_view(stroke="transparent")
)

chart.save("out.html", embed_options={"renderer": "svg", "actions": False})
